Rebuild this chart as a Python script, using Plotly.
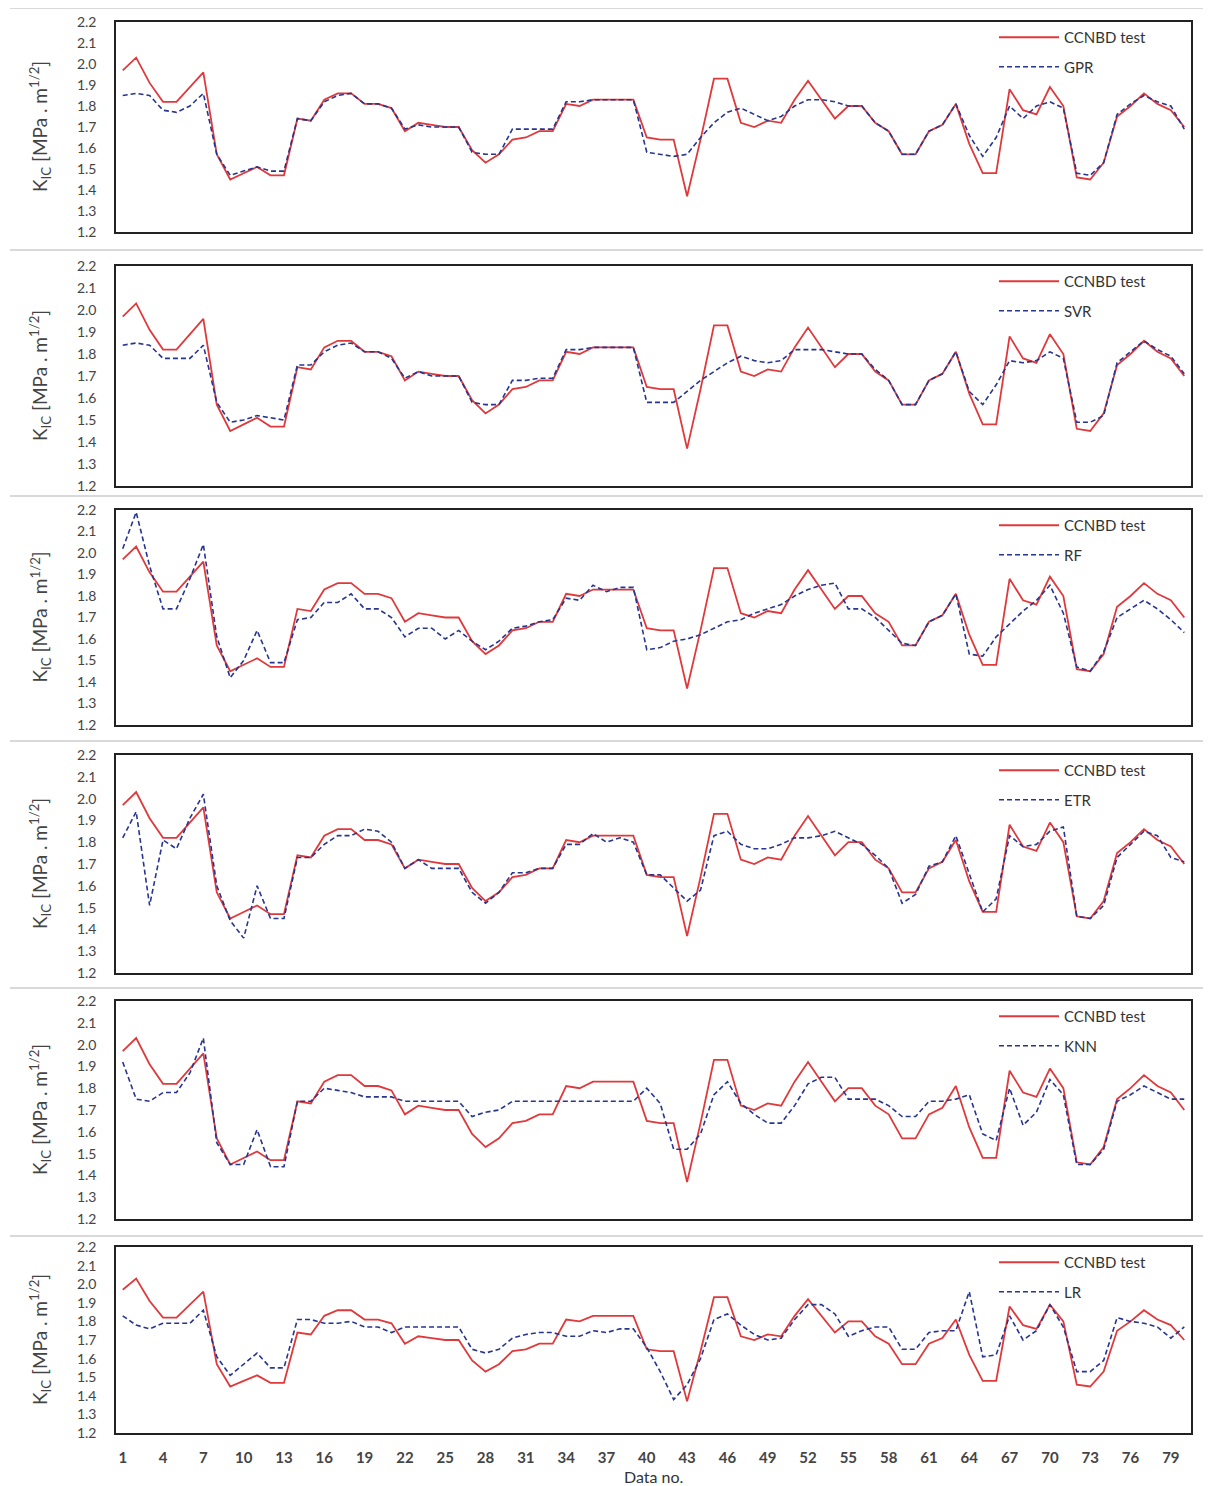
import plotly.graph_objects as go

# ---------------- data ----------------
data_no = list(range(1, 81))

ccnbd_test = [1.97, 2.03, 1.91, 1.82, 1.82, 1.89, 1.96, 1.57, 1.45, 1.48,
              1.51, 1.47, 1.47, 1.74, 1.73, 1.83, 1.86, 1.86, 1.81, 1.81,
              1.79, 1.68, 1.72, 1.71, 1.70, 1.70, 1.59, 1.53, 1.57, 1.64,
              1.65, 1.68, 1.68, 1.81, 1.80, 1.83, 1.83, 1.83, 1.83, 1.65,
              1.64, 1.64, 1.37, 1.64, 1.93, 1.93, 1.72, 1.70, 1.73, 1.72,
              1.83, 1.92, 1.83, 1.74, 1.80, 1.80, 1.72, 1.68, 1.57, 1.57,
              1.68, 1.71, 1.81, 1.62, 1.48, 1.48, 1.88, 1.78, 1.76, 1.89,
              1.80, 1.46, 1.45, 1.53, 1.75, 1.80, 1.86, 1.81, 1.78, 1.70]

gpr = [1.85, 1.86, 1.85, 1.78, 1.77, 1.80, 1.86, 1.57, 1.47, 1.49,
       1.51, 1.49, 1.49, 1.74, 1.73, 1.82, 1.85, 1.86, 1.81, 1.81,
       1.79, 1.69, 1.71, 1.70, 1.70, 1.70, 1.58, 1.57, 1.57, 1.69,
       1.69, 1.69, 1.69, 1.82, 1.82, 1.83, 1.83, 1.83, 1.83, 1.58,
       1.57, 1.56, 1.57, 1.65, 1.72, 1.77, 1.79, 1.76, 1.73, 1.75,
       1.80, 1.83, 1.83, 1.82, 1.80, 1.80, 1.72, 1.68, 1.57, 1.57,
       1.68, 1.71, 1.81, 1.66, 1.56, 1.65, 1.80, 1.74, 1.80, 1.82,
       1.79, 1.48, 1.47, 1.53, 1.76, 1.81, 1.85, 1.82, 1.80, 1.69]

svr = [1.84, 1.85, 1.84, 1.78, 1.78, 1.78, 1.84, 1.58, 1.49, 1.50,
       1.52, 1.51, 1.50, 1.75, 1.75, 1.81, 1.84, 1.85, 1.81, 1.81,
       1.78, 1.69, 1.72, 1.70, 1.70, 1.70, 1.58, 1.57, 1.57, 1.68,
       1.68, 1.69, 1.69, 1.82, 1.82, 1.83, 1.83, 1.83, 1.83, 1.58,
       1.58, 1.58, 1.63, 1.68, 1.72, 1.76, 1.79, 1.77, 1.76, 1.77,
       1.82, 1.82, 1.82, 1.81, 1.80, 1.80, 1.73, 1.68, 1.57, 1.57,
       1.68, 1.71, 1.81, 1.63, 1.57, 1.66, 1.77, 1.76, 1.77, 1.81,
       1.78, 1.49, 1.49, 1.52, 1.76, 1.81, 1.86, 1.82, 1.79, 1.71]

rf = [2.02, 2.19, 1.94, 1.74, 1.74, 1.88, 2.04, 1.61, 1.42, 1.50,
      1.64, 1.49, 1.49, 1.69, 1.70, 1.77, 1.77, 1.81, 1.74, 1.74,
      1.70, 1.61, 1.65, 1.65, 1.60, 1.64, 1.59, 1.55, 1.59, 1.65,
      1.66, 1.68, 1.69, 1.79, 1.78, 1.85, 1.82, 1.84, 1.84, 1.55,
      1.56, 1.59, 1.60, 1.62, 1.65, 1.68, 1.69, 1.72, 1.74, 1.76,
      1.80, 1.83, 1.85, 1.86, 1.74, 1.74, 1.70, 1.64, 1.58, 1.57,
      1.68, 1.71, 1.81, 1.53, 1.52, 1.61, 1.67, 1.73, 1.78, 1.85,
      1.72, 1.47, 1.45, 1.54, 1.70, 1.74, 1.78, 1.74, 1.69, 1.63]

etr = [1.82, 1.94, 1.51, 1.81, 1.77, 1.91, 2.02, 1.60, 1.44, 1.36,
       1.60, 1.45, 1.45, 1.73, 1.73, 1.79, 1.83, 1.83, 1.86, 1.85,
       1.80, 1.68, 1.72, 1.68, 1.68, 1.68, 1.57, 1.52, 1.57, 1.66,
       1.66, 1.68, 1.68, 1.79, 1.79, 1.84, 1.80, 1.82, 1.80, 1.65,
       1.65, 1.59, 1.53, 1.58, 1.83, 1.85, 1.79, 1.77, 1.77, 1.79,
       1.82, 1.82, 1.83, 1.85, 1.82, 1.79, 1.74, 1.68, 1.52, 1.56,
       1.69, 1.71, 1.83, 1.65, 1.48, 1.54, 1.83, 1.78, 1.79, 1.85,
       1.87, 1.46, 1.45, 1.51, 1.73, 1.79, 1.85, 1.83, 1.73, 1.71]

knn = [1.92, 1.75, 1.74, 1.78, 1.78, 1.87, 2.03, 1.55, 1.45, 1.45,
       1.61, 1.44, 1.44, 1.74, 1.74, 1.80, 1.79, 1.78, 1.76, 1.76,
       1.76, 1.74, 1.74, 1.74, 1.74, 1.74, 1.67, 1.69, 1.70, 1.74,
       1.74, 1.74, 1.74, 1.74, 1.74, 1.74, 1.74, 1.74, 1.74, 1.80,
       1.73, 1.52, 1.52, 1.59, 1.77, 1.83, 1.73, 1.68, 1.64, 1.64,
       1.72, 1.82, 1.85, 1.85, 1.75, 1.75, 1.75, 1.72, 1.67, 1.67,
       1.74, 1.74, 1.75, 1.77, 1.59, 1.56, 1.80, 1.63, 1.69, 1.84,
       1.77, 1.45, 1.45, 1.52, 1.74, 1.77, 1.81, 1.78, 1.75, 1.75]

lr = [1.83, 1.78, 1.76, 1.79, 1.79, 1.79, 1.86, 1.61, 1.51, 1.57,
      1.63, 1.55, 1.55, 1.81, 1.81, 1.79, 1.79, 1.80, 1.77, 1.77,
      1.74, 1.77, 1.77, 1.77, 1.77, 1.77, 1.65, 1.63, 1.65, 1.71,
      1.73, 1.74, 1.74, 1.72, 1.72, 1.75, 1.74, 1.76, 1.76, 1.66,
      1.53, 1.38, 1.46, 1.60, 1.81, 1.84, 1.78, 1.73, 1.70, 1.71,
      1.81, 1.89, 1.89, 1.84, 1.72, 1.75, 1.77, 1.77, 1.65, 1.65,
      1.74, 1.75, 1.75, 1.96, 1.61, 1.62, 1.83, 1.70, 1.75, 1.89,
      1.77, 1.53, 1.53, 1.59, 1.82, 1.80, 1.79, 1.77, 1.71, 1.77]

model_names = ["GPR", "SVR", "RF", "ETR", "KNN", "LR"]
model_values = [gpr, svr, rf, etr, knn, lr]

y_ticks = [1.2, 1.3, 1.4, 1.5, 1.6, 1.7, 1.8, 1.9, 2.0, 2.1, 2.2]
x_ticks = data_no[::3]

# ---------------- styling / layout ----------------
W, H = 1211, 1486
OFF = 8  # page body margin of the browser
RED = "#e0393b"
BLUE = "#27358f"
FONT = "Lato"
panel_px = [(22, 232), (266, 486), (510, 725), (755, 973), (1001, 1219), (1247, 1433)]
x_left, x_right = 116, 1191
sep_px = [8, 250, 496, 741, 988, 1236]


def px_x(v):
    return (v - OFF) / W


def px_y(v):
    return 1 - (v - OFF) / H


fig = go.Figure()
layout = dict(
    width=W, height=H,
    margin=dict(l=0, r=0, t=0, b=0, autoexpand=False),
    paper_bgcolor="white", plot_bgcolor="white",
    font=dict(family=FONT, color="#333333"),
    showlegend=True,
)
annotations = []
shapes = []

for i, (name, pred) in enumerate(zip(model_names, model_values)):
    k = i + 1
    top, bot = panel_px[i]
    xa = "x" if k == 1 else f"x{k}"
    ya = "y" if k == 1 else f"y{k}"
    lg = "legend" if k == 1 else f"legend{k}"

    fig.add_trace(go.Scatter(
        x=data_no, y=ccnbd_test, mode="lines", name="CCNBD test",
        line=dict(color=RED, width=1.8), xaxis=xa, yaxis=ya,
        legend=lg, legendgroup=f"t{k}"))
    fig.add_trace(go.Scatter(
        x=data_no, y=pred, mode="lines", name=name,
        line=dict(color=BLUE, width=1.6, dash="5px,3px"), xaxis=xa, yaxis=ya,
        legend=lg, legendgroup=f"m{k}"))

    layout["xaxis" if k == 1 else f"xaxis{k}"] = dict(
        domain=[px_x(x_left), px_x(x_right)], anchor=ya, automargin=False,
        range=[0.5, 80.5], showgrid=False, zeroline=False,
        showline=True, mirror=True, linecolor="#222222", linewidth=1.5,
        tickmode="array", tickvals=x_ticks,
        ticktext=[f"<b>{v}</b>" for v in x_ticks],
        showticklabels=(k == 6), ticks="",
        tickfont=dict(size=15, color="#444444", family=FONT),
        ticklabelstandoff=10,
    )
    layout["yaxis" if k == 1 else f"yaxis{k}"] = dict(
        domain=[px_y(bot), px_y(top)], anchor=xa, automargin=False,
        range=[1.2, 2.2], showgrid=False, zeroline=False,
        showline=True, mirror=True, linecolor="#222222", linewidth=1.5,
        tickmode="array", tickvals=y_ticks, ticktext=[f"{v:.1f}" for v in y_ticks],
        ticks="", tickfont=dict(size=14, color="#444444", family=FONT),
        ticklabelstandoff=15,
    )
    layout[lg] = dict(
        x=px_x(994), y=px_y(top - 1), xanchor="left", yanchor="top",
        xref="paper", yref="paper",
        bgcolor="rgba(0,0,0,0)", borderwidth=0,
        font=dict(size=15, color="#333333", family=FONT),
        tracegroupgap=7, itemwidth=60,
    )
    annotations.append(dict(
        text="K<sub>IC</sub> [MPa . m<sup>1/2</sup>]",
        x=px_x(40), y=px_y((top + bot) / 2), xref="paper", yref="paper",
        textangle=-90, showarrow=False, xanchor="center", yanchor="middle",
        font=dict(size=19, color="#444444", family=FONT)))

annotations.append(dict(
    text="Data no.", x=px_x((x_left + x_right) / 2), y=px_y(1476),
    xref="paper", yref="paper", showarrow=False,
    xanchor="center", yanchor="middle",
    font=dict(size=16, color="#333333", family=FONT)))

for sy in sep_px:
    shapes.append(dict(type="line", xref="paper", yref="paper",
                       x0=px_x(10), x1=1, y0=px_y(sy), y1=px_y(sy),
                       line=dict(color="#d9d9d9", width=2)))

layout["annotations"] = annotations
layout["shapes"] = shapes
fig.update_layout(**layout)

fig.write_html("out.html")
